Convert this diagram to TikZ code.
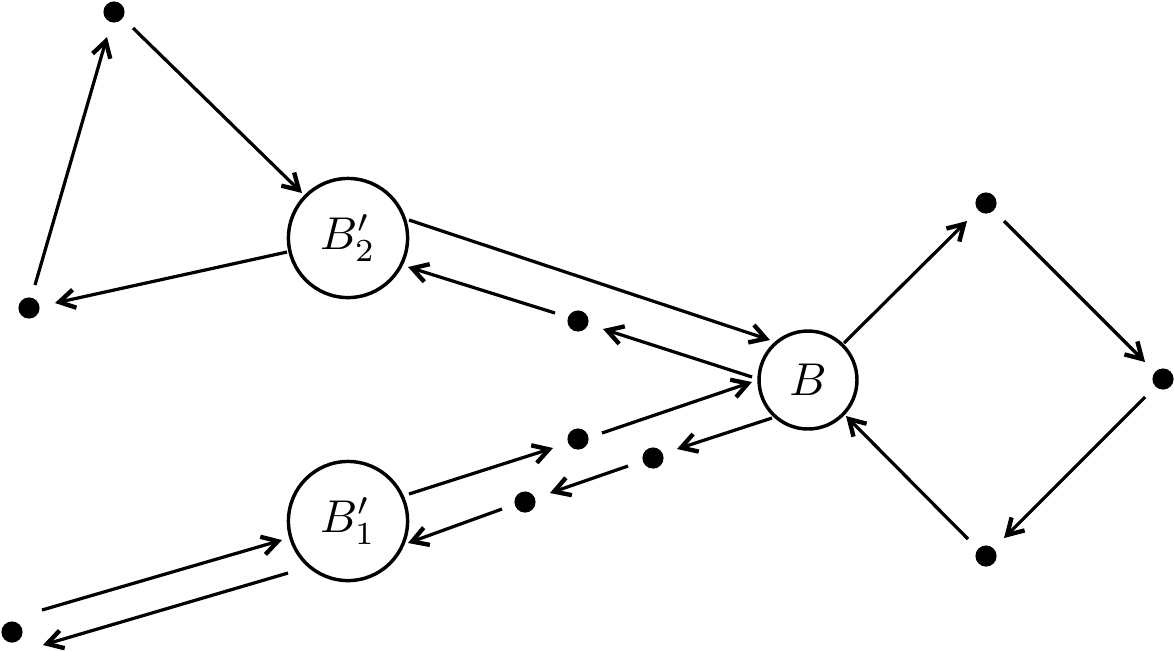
\documentclass[tikz,border=0pt]{standalone}
\usetikzlibrary{arrows.meta}
\begin{document}
\begin{tikzpicture}[x=0.2174pt,y=-0.2174pt,
  dotnode/.style={circle,fill=black,inner sep=0pt,minimum size=4.6pt},
  bignode/.style={circle,draw=black,line width=0.75pt,inner sep=0pt,minimum size=25.9pt},
  bnode/.style={circle,draw=black,line width=0.75pt,inner sep=0pt,minimum size=21.3pt},
  arr/.style={line width=0.7pt,-{Straight Barb[length=3.4pt,width=4pt,line width=0.95pt]}}]
\useasboundingbox (0,0) rectangle (1174,650);
% nodes
\node[dotnode] (top) at (114,12) {};
\node[dotnode] (left) at (29,308) {};
\node[bignode] (B2) at (348,238) {$B'_2$};
\node[bignode] (B1) at (348,521) {$B'_1$};
\node[bnode] (B) at (808,380) {$B$};
\node[dotnode] (U) at (578,321) {};
\node[dotnode] (L) at (578,439) {};
\node[dotnode] (M) at (653,458) {};
\node[dotnode] (N) at (525,502) {};
\node[dotnode] (BL) at (12,632) {};
\node[dotnode] (TR) at (986,203) {};
\node[dotnode] (R) at (1163,379) {};
\node[dotnode] (BR) at (986,556) {};
% connectors
\draw[arr] ([shift={(6,-23)}]left.center) -- ([shift={(-7,25)}]top.center);
\draw[arr] ([shift={(19,16)}]top.center) -- ([shift={(-46,-45)}]B2.center);
\draw[arr] ([shift={(-61,14)}]B2.center) -- ([shift={(26,-5)}]left.center);
\draw[arr] ([shift={(61,-18)}]B2.center) -- ([shift={(-38,-40)}]B.center);
\draw[arr] ([shift={(-56,-3)}]B.center) -- ([shift={(25,8)}]U.center);
\draw[arr] ([shift={(-23,-8)}]U.center) -- ([shift={(60,29)}]B2.center);
\draw[arr] ([shift={(61,-27)}]B1.center) -- ([shift={(-25,9)}]L.center);
\draw[arr] ([shift={(24,-6)}]L.center) -- ([shift={(-56,2)}]B.center);
\draw[arr] ([shift={(-36,38)}]B.center) -- ([shift={(24,-9)}]M.center);
\draw[arr] ([shift={(-25,8)}]M.center) -- ([shift={(25,-9)}]N.center);
\draw[arr] ([shift={(-23,7)}]N.center) -- ([shift={(60,22)}]B1.center);
\draw[arr] ([shift={(30,-22)}]BL.center) -- ([shift={(-66,19)}]B1.center);
\draw[arr] ([shift={(-60,52)}]B1.center) -- ([shift={(31,13)}]BL.center);
\draw[arr] ([shift={(36,-37)}]B.center) -- ([shift={(-19,18)}]TR.center);
\draw[arr] ([shift={(18,18)}]TR.center) -- ([shift={(-18,-17)}]R.center);
\draw[arr] ([shift={(-18,18)}]R.center) -- ([shift={(18,-18)}]BR.center);
\draw[arr] ([shift={(-18,-17)}]BR.center) -- ([shift={(38,36)}]B.center);
\end{tikzpicture}
\end{document}
